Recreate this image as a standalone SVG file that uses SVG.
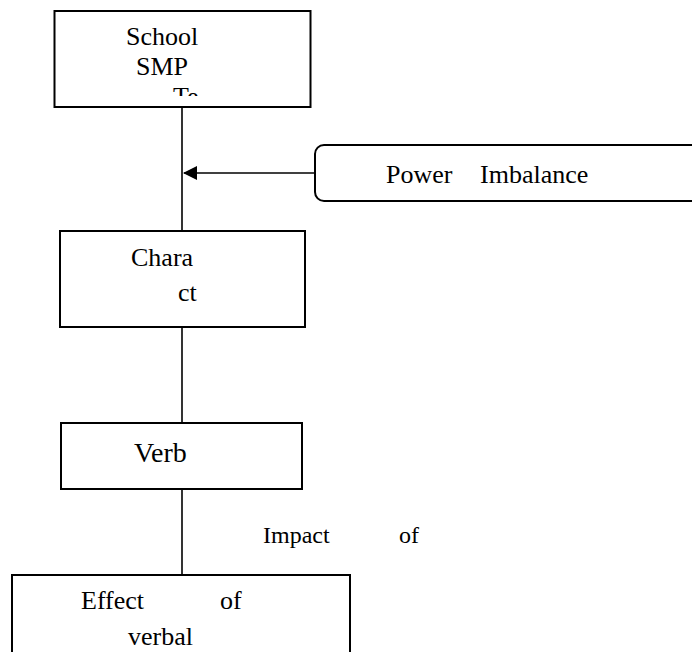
<svg xmlns="http://www.w3.org/2000/svg" width="692" height="652" viewBox="0 0 692 652">
<style>
.box{fill:#fff;stroke:#000;stroke-width:2}
.ln{fill:none;stroke:#000;stroke-width:1.6}
text{font-family:'Liberation Serif','DejaVu Serif',serif;font-size:26px;fill:#000}
</style>
<defs>
<marker id="ah" viewBox="0 0 14 14" refX="13" refY="7" markerWidth="14" markerHeight="14" markerUnits="userSpaceOnUse" orient="auto">
<path d="M0,0 L14,7 L0,14 Z" fill="#000"/>
</marker>
<clipPath id="c1"><rect x="55" y="12" width="255" height="84"/></clipPath>
</defs>
<rect width="692" height="652" fill="#fff"/>
<g id="connectors">
<line class="ln" x1="182" y1="107" x2="182" y2="231"/>
<line class="ln" x1="182" y1="327" x2="182" y2="423"/>
<line class="ln" x1="182" y1="489" x2="182" y2="575"/>
<line class="ln" x1="315" y1="173" x2="184" y2="173" marker-end="url(#ah)"/>
</g>
<g font-family="Liberation Serif, serif">
<g id="school">
<rect class="box" x="54.5" y="11" width="256" height="96"/>
<g clip-path="url(#c1)">
<text x="126" y="45">School</text>
<text x="136" y="75">SMP</text>
<text x="173" y="105">Te</text>
</g>
</g>
<g id="power">
<rect class="box" x="315" y="145" width="400" height="56" rx="9"/>
<text x="386" y="183">Power</text>
<text x="480" y="183">Imbalance</text>
</g>
<g id="character">
<rect class="box" x="60" y="231" width="245" height="96"/>
<text x="131" y="266">Chara</text>
<text x="178" y="301">ct</text>
</g>
<g id="verb">
<rect class="box" x="61" y="423" width="241" height="66"/>
<text x="134" y="462" style="font-size:28px">Verb</text>
</g>
<g id="impact">
<text x="263" y="543" style="font-size:24px">Impact</text>
<text x="399" y="543" style="font-size:24px">of</text>
</g>
<g id="effect">
<rect class="box" x="12" y="575" width="338" height="100"/>
<text x="81" y="609">Effect</text>
<text x="220" y="609">of</text>
<text x="128" y="645">verbal</text>
</g>
</g>
</svg>
